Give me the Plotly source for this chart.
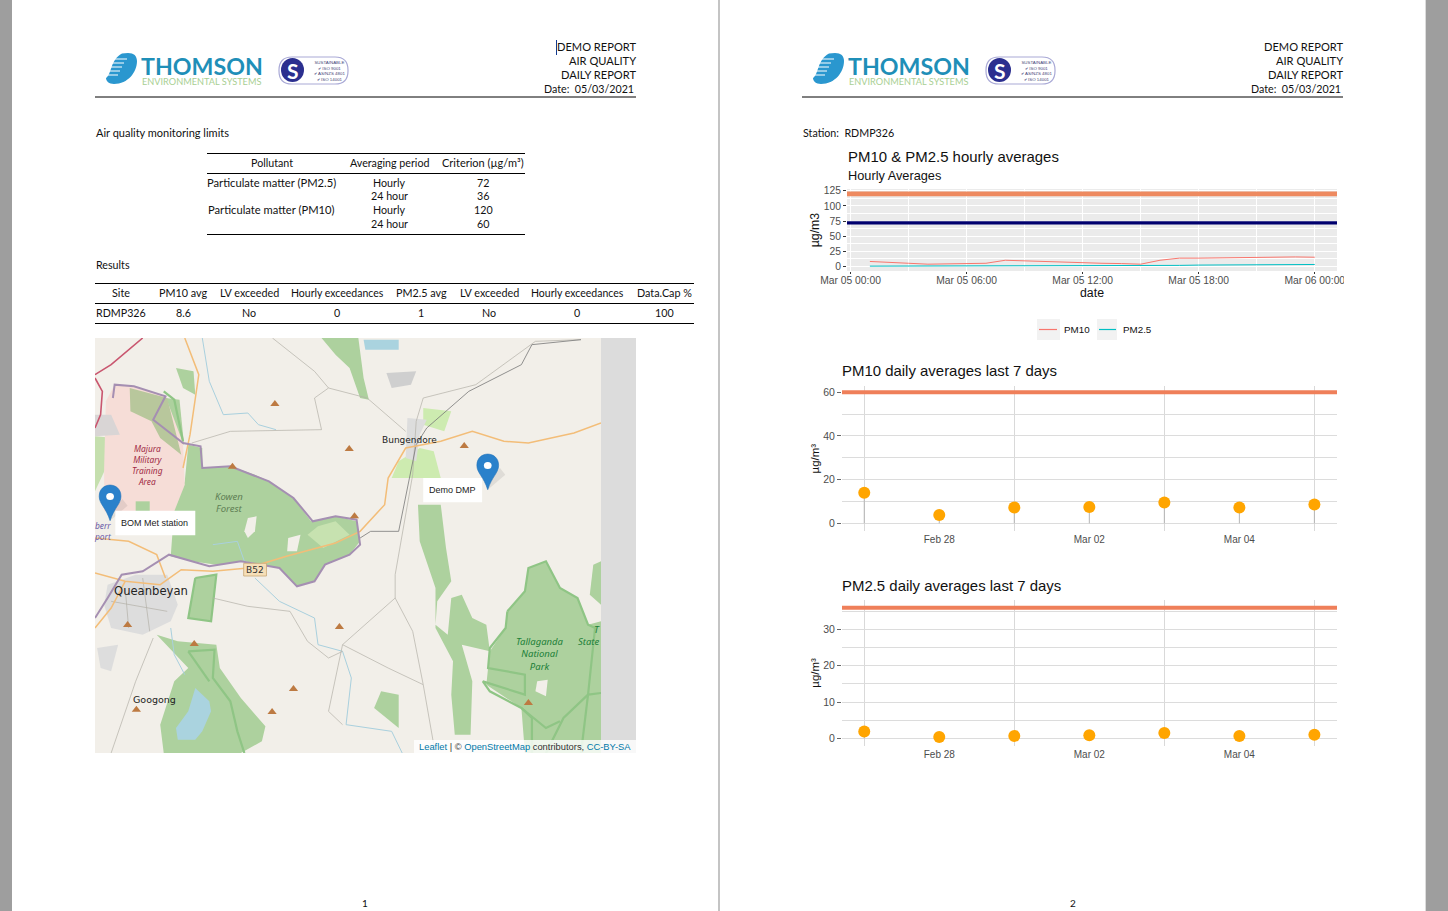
import plotly.graph_objects as go

W, H = 1448, 911
SERIF = "Lato"
SANS = "Liberation Sans"

# ---------- data ----------
hours = ["2021-03-05 %02d:00" % h for h in range(1, 24)] + ["2021-03-06 00:00"]
pm10_hourly = [8, 7, 5, 3.5, 4, 5, 5, 10, 9, 8, 6.5, 5, 5, 4.5, 3.5, 10, 13.5, 13.5, 14, 14, 14, 15, 15.5, 15]
pm25_hourly = [0.3] * 15 + [1, 1.5, 2, 2.2, 2.5, 3, 3, 3, 3]
limit_hourly_pm10 = 120
limit_hourly_pm25 = 72
days = ["2021-02-27", "2021-02-28", "2021-03-01", "2021-03-02", "2021-03-03", "2021-03-04", "2021-03-05"]
pm10_daily = [14, 3.8, 7.2, 7.5, 9.5, 7.3, 8.6]
pm25_daily = [1.9, 0.4, 0.7, 0.9, 1.5, 0.7, 1.0]
limit_daily_pm10 = 60
limit_daily_pm25 = 36
day_ticks = ["2021-02-28", "2021-03-02", "2021-03-04"]
day_labels = ["Feb 28", "Mar 02", "Mar 04"]
day_grid = ["2021-02-27", "2021-03-01", "2021-03-03", "2021-03-05"]

limits_head = ["Pollutant", "Averaging period", "Criterion (µg/m³)"]
limits_rows = [("Particulate matter (PM2.5)", "Hourly", "72"), ("", "24 hour", "36"),
               ("Particulate matter (PM10)", "Hourly", "120"), ("", "24 hour", "60")]
results_head = ["Site", "PM10 avg", "LV exceeded", "Hourly exceedances", "PM2.5 avg", "LV exceeded", "Hourly exceedances", "Data.Cap %"]
results_row = ["RDMP326", "8.6", "No", "0", "1", "No", "0", "100"]

# map features, in map-image units
LAND = "#f2efe9"
land = [("#add19e", [(280,330),(320,340),(320,400),(400,395),(470,420),(510,440),(580,490),(630,560),(700,545),(760,560),(770,620),(740,660),(670,690),(640,740),(590,755),(540,700),(440,680),(360,690),(290,680),(230,665),(240,520),(270,440)]),
        ("#add19e", [(215,190),(255,195),(268,330),(225,300),(180,255)]),
        ("#c5dfae", [(14,305),(70,310),(45,400),(14,470)]),
        (LAND, [(450,550),(475,545),(470,590),(450,610),(440,590)]),
        (LAND, [(565,610),(600,600),(590,650),(562,650)]),
        ("#c7e2b0", [(620,600),(650,575),(700,560),(740,600),(665,640)]),
        ("#add19e", [(660,10),(765,10),(780,130),(795,195),(770,190),(740,100),(700,60)]),
        ("#add19e", [(245,100),(295,110),(300,180),(265,160)]),
        ("#add19e", [(935,510),(1000,510),(1015,640),(1030,740),(990,800),(985,870),(1020,900),(1030,790),(1060,780),(1090,850),(1130,870),(1140,950),(1060,930),(1090,1040),(1085,1200),(1040,1200),(1030,1080),(1035,980),(985,880),(985,760),(940,620)]),
        ("#add19e", [(1190,830),(1240,770),(1250,700),(1300,680),(1340,760),(1390,790),(1420,870),(1457,860),(1457,1255),(1240,1255),(1230,1120),(1130,1050),(1140,950),(1185,880)]),
        (LAND, [(1275,1040),(1305,1035),(1300,1085),(1270,1070)]),
        ("#add19e", [(1435,690),(1457,680),(1457,810),(1425,780)]),
        ("#add19e", [(300,730),(360,720),(345,860),(280,850)]),
        ("#add19e", [(190,900),(250,920),(360,930),(370,1000),(430,1090),(500,1175),(490,1220),(430,1255),(210,1255),(200,1170),(240,1040),(280,1000)]),
        ("#add19e", [(830,1070),(880,1080),(880,1180),(810,1120)]),
        ("#cdebb0", [(950,220),(1030,230),(1010,290),(950,270)]),
        ("#cdebb0", [(940,340),(980,350),(1000,430),(860,430),(880,380)]),
        ("#f6ddd7", [(70,150),(125,155),(215,185),(265,325),(270,450),(240,530),(40,530),(40,400),(45,200)]),
        ("#b8c79c", [(113,160),(220,190),(260,360),(200,310),(175,260),(115,230)]),
        ("#add19e", [(130,500),(170,500),(170,530),(130,530)]),
        ("#d9d5d5", [(14,240),(60,240),(85,300),(14,305)]),
        ("#dddddd", [(50,750),(130,720),(220,720),(250,810),(230,860),(150,900),(60,880),(40,810)]),
        ("#dddddd", [(905,250),(960,255),(940,300),(930,380),(900,370)]),
        ("#dddddd", [(20,940),(80,930),(60,1010),(30,1000)]),
        ("#cfcfcf", [(845,115),(930,110),(915,150),(860,160)]),
        ("#aad3df", [(300,1060),(340,1100),(345,1130),(320,1190),(300,1215),(250,1215),(245,1180),(280,1130)]),
        ("#aad3df", [(780,15),(880,15),(880,45),(785,45)])]
park_edges = [[(1190,830),(1240,770),(1250,700),(1300,680),(1340,760),(1390,790),(1420,870),(1440,880),(1420,1080),(1457,1075)],
              [(1190,830),(1185,880),(1140,940),(1135,1000),(1240,1020),(1240,1080),(1120,1040),(1140,1070),(1230,1120),(1260,1150),(1260,1255)],
              [(1300,1255),(1350,1150),(1420,1080)],
              [(1230,1120),(1300,1180),(1340,1160)],
              [(1420,1080),(1400,1255)],
              [(300,730),(360,720),(345,860),(280,850),(300,730)],
              [(280,950),(355,945),(350,1030),(400,1100),(420,1190),(440,1255)],
              [(280,950),(340,1040)],
              [(210,170),(240,195),(265,320)]]
state_border = [(65,190),(70,150),(125,155),(215,185),(180,255),(265,325),(315,335),(320,400),(400,395),(470,425),(510,440),(580,490),(635,560),(700,545),(760,555),(770,630),(740,660),(670,690),(640,740),(590,755),(540,700),(430,680),(340,695),(290,680),(225,660),(150,710),(90,720),(50,790),(14,850)]
major_roads = [[(1457,265),(1380,295),(1250,325),(1180,320),(1090,290),(1000,320),(900,340),(850,430),(840,510),(770,590),(700,625),(560,665),(450,700),(350,710),(260,705),(200,750),(100,740),(14,715)],
               [(270,10),(310,120),(285,300),(265,400)],
               [(14,880),(60,820),(100,740)],
               [(14,610),(110,620),(190,660),(215,730)]]
red_roads = [[(150,10),(60,90),(14,120)], [(14,130),(35,170),(30,240),(14,280)]]
minor_roads = [[(1400,15),(1270,20),(1100,150),(950,190),(930,260),(920,420),(870,720),(870,790),(720,930),(680,1130),(720,1170)],
               [(870,790),(920,890),(950,1050),(980,1230)],
               [(720,930),(850,1000),(950,1050)],
               [(520,10),(640,110),(680,160),(790,190),(900,290)],
               [(680,160),(640,190),(660,285),(400,290),(290,325)],
               [(350,790),(450,815),(570,830),(620,920),(680,970),(720,950)],
               [(180,910),(130,1040),(60,1255)],
               [(100,760),(110,880)], [(60,800),(220,830)], [(150,730),(170,890)]]
dark_roads = [[(1400,15),(1260,30),(1230,90),(1080,170),(960,280),(930,330),(880,590),(800,590),(770,610)]]
rivers = [[(320,10),(340,140),(380,240),(450,235),(480,270),(530,285)],
          [(470,730),(540,800),(640,850),(650,930),(720,950),(745,1030),(730,1170),(860,1190),(890,1255)],
          [(230,880),(240,960),(270,1020)],
          [(350,630),(420,620),(440,680)]]
peaks_x = [527, 739, 1067, 406, 754, 107, 297, 711, 580, 519, 132, 1250]
peaks_y = [208, 343, 334, 396, 545, 871, 928, 877, 1063, 1132, 1125, 1105]
pins = [(57, 558), (1134, 465)]
popups = [(72, 528, 300, 602, 185, "BOM Met station"), (950, 430, 1118, 503, 1034, "Demo DMP")]
place_labels = [(163,390,"Majura<br>Military<br>Training<br>Area","#a02b45",8.4,True),
                (395,502,"Kowen<br>Forest","#5f7f55",9.6,True),
                (175,768,"Queanbeyan","#222222",11.6,False),(910,316,"Bungendore","#222222",9,False),(184,1094,"Googong","#222222",9.5,False),
                (1283,958,"Tallaganda<br>National<br>Park","#1c8038",9.5,True),
                (1422,921,"State","#1c8038",9.5,True),(1447,884,"T","#1c8038",9.5,True),(38,590,"berr<br>port","#6a5aa8",8.4,True)]

# ---------- helpers ----------
def px(x): return x / W
def py(y): return 1 - y / H

shapes, annos = [], []

def rect(x0, y0, x1, y1, fill, layer="below", line=None):
    shapes.append(dict(type="rect", xref="paper", yref="paper", x0=px(x0), x1=px(x1), y0=py(y1), y1=py(y0),
                       fillcolor=fill, line=dict(width=0) if line is None else line, layer=layer))

def hline(x0, x1, y, color="#000000", width=1):
    shapes.append(dict(type="line", xref="paper", yref="paper", x0=px(x0), x1=px(x1), y0=py(y), y1=py(y),
                       line=dict(color=color, width=width), layer="below"))

def text(x, y, s, size=10.7, color="#111111", font=SERIF, anchor="center", **kw):
    dx = {"left": -2, "right": 2}.get(anchor, 0)
    annos.append(dict(xref="paper", yref="paper", x=px(x + dx), y=py(y), text=s, showarrow=False, xanchor=anchor,
                      yanchor="middle", font=dict(family=font, size=size, color=color), **kw))

fig = go.Figure()

# ---------- pages ----------
rect(12, 0, 718, H, "#ffffff")
rect(720, 0, 1425, H, "#ffffff")
rect(718, 0, 720, H, "#c4c4c4")
rect(1425, 0, 1426, H, "#dcdcdc")

def pp(x, y):
    return "%.6f %.6f" % (px(x), py(y))

def header(dx):
    # logo swoosh
    d = "M %s L %s C %s %s %s C %s %s %s C %s %s %s C %s %s %s Z" % (
        pp(122 + dx, 53.5), pp(128 + dx, 53), pp(134 + dx, 53), pp(137 + dx, 56), pp(137 + dx, 61),
        pp(137 + dx, 72), pp(128 + dx, 84), pp(114 + dx, 84), pp(109 + dx, 84), pp(106 + dx, 81), pp(106 + dx, 78),
        pp(112 + dx, 74), pp(110 + dx, 60), pp(122 + dx, 53.5))
    shapes.append(dict(type="path", xref="paper", yref="paper", path=d, fillcolor="#2a97cf", line=dict(width=0), layer="below"))
    for y, x1 in ((59, 127), (63, 124), (67, 122), (71, 120), (75, 118)):
        hline(104 + dx, x1 + dx, y, "#ffffff", 1)
    text(201.5 + dx, 66, "<b>THOMSON</b>", size=23.2, color="#1f8fb8", font="Lato")
    text(201.5 + dx, 81.5, "ENVIRONMENTAL SYSTEMS", size=9.2, color="#a9cf93", font="Lato")
    # badge, a pill
    x0, x1, y0, y1 = 279 + dx, 348 + dx, 57, 84
    b = "M %s L %s C %s %s %s L %s C %s %s %s L %s C %s %s %s L %s C %s %s %s Z" % (
        pp(x0 + 13, y0), pp(x1 - 13, y0), pp(x1 - 4, y0), pp(x1, y0 + 5), pp(x1, y0 + 13),
        pp(x1, y1 - 13), pp(x1, y1 - 5), pp(x1 - 4, y1), pp(x1 - 13, y1),
        pp(x0 + 13, y1), pp(x0 + 4, y1), pp(x0, y1 - 5), pp(x0, y1 - 13),
        pp(x0, y0 + 13), pp(x0, y0 + 5), pp(x0 + 4, y0), pp(x0 + 13, y0))
    shapes.append(dict(type="path", xref="paper", yref="paper", path=b, fillcolor="#ffffff", line=dict(color="#a9a9d6", width=1.2), layer="below"))
    shapes.append(dict(type="circle", xref="paper", yref="paper", x0=px(281 + dx), x1=px(304 + dx), y0=py(82), y1=py(58),
                       fillcolor="#2b2f8f", line=dict(width=0), layer="below"))
    text(292.5 + dx, 70, "<b>S</b>", size=21, color="#ffffff", font="Lato")
    text(329 + dx, 70.5, "SUSTAINABLE<br>✔ ISO 9001<br>✔ AS/NZS 4801<br>✔ ISO 14001", size=4.4, color="#444477", font=SANS)
    hline(95 + dx, 636 + dx, 97, width=1)
    text(636 + dx, 46.5, "DEMO REPORT", size=11.1, anchor="right")
    text(636 + dx, 60.5, "AIR QUALITY", size=11.1, anchor="right")
    text(636 + dx, 75, "DAILY REPORT", size=11.1, anchor="right")
    text(634 + dx, 89, "Date:  05/03/2021", anchor="right")

header(0)
header(707)
shapes.append(dict(type="line", xref="paper", yref="paper", x0=px(556.5), x1=px(556.5), y0=py(40), y1=py(55), line=dict(color="#123a8f", width=1)))
text(365.5, 902.5, "1", size=10)
text(1073, 902.5, "2", size=10)
text(96, 132.5, "Air quality monitoring limits", size=11, anchor="left")
text(96, 264.5, "Results", anchor="left")
text(803, 132.5, "Station:  RDMP326", anchor="left")

# tables
for y in (153.5, 173.5, 234.5):
    hline(207, 525, y)
for cx, s in zip((272, 389, 483), limits_head):
    text(cx, 163, s, size=11 if "Crit" in s else 10.7)
for ry, row in zip((183, 196, 209.5, 223.5), limits_rows):
    for cx, s in zip((271.5, 389, 483), row):
        if s:
            text(cx, ry, s, size=11.2 if "Part" in s else 10.7)
for y in (283.5, 303.5, 323.5):
    hline(95, 694, y)
res_x = (121, 183, 249, 337, 421, 489, 577, 664.5)
for cx, s, r in zip(res_x, results_head, results_row):
    text(cx, 293, s, size=10.5 if "Hourly" in s else 10.8)
    text(cx, 312.5, r)

# ---------- map ----------
rect(95, 338, 601, 753, LAND)
rect(601, 338, 636, 753, "#dcdcdc")

def mline(pts, color, width, fill=None):
    fig.add_trace(go.Scatter(x=[p[0] for p in pts], y=[p[1] for p in pts], xaxis="x4", yaxis="y4", mode="lines",
                             line=dict(color=color, width=width), fill="toself" if fill else None, fillcolor=fill,
                             hoverinfo="skip", showlegend=False))

for col, poly in land:
    mline(poly, "rgba(0,0,0,0)", 0, col)
for r in rivers:
    mline(r, "#a9d0de", 1)
for e in park_edges:
    mline(e, "#8fc585", 2.2)
for r in minor_roads:
    mline(r, "#b3b0a8", 0.7)
for r in dark_roads:
    mline(r, "#777777", 0.8)
for r in major_roads:
    mline(r, "#f3bd78", 1.5)
for r in red_roads:
    mline(r, "#c9566f", 1.6)
mline(state_border, "#a58fb2", 2)
fig.add_trace(go.Scatter(x=peaks_x, y=peaks_y, xaxis="x4", yaxis="y4", mode="markers",
                         marker=dict(symbol="triangle-up", size=8, color="#bd7a42"), hoverinfo="skip", showlegend=False))
for (x, y, s, c, sz, it) in place_labels:
    annos.append(dict(xref="x4", yref="y4", x=x, y=y, text="<i>%s</i>" % s if it else s, showarrow=False,
                      font=dict(family="DejaVu Sans" if not it else "Noto Sans", size=sz, color=c)))
# road shield
shapes.append(dict(type="rect", xref="x4", yref="y4", x0=438, x1=503, y0=686, y1=724, fillcolor="#f6dfb8", line=dict(color="#c9a877", width=0.8)))
annos.append(dict(xref="x4", yref="y4", x=470, y=705, text="B52", showarrow=False, font=dict(family="DejaVu Sans", size=9, color="#333333")))
# pins, popups
for (x, y) in pins:
    shapes.append(dict(type="path", xref="x4", yref="y4", path="M %g %g L %g %g L %g %g L %g %g Z" % (x, y, x + 50, y - 45, x + 35, y - 65, x + 8, y - 30),
                       fillcolor="rgba(60,60,60,0.10)", line=dict(width=0), layer="above"))
    path = "M %g %g C %g %g %g %g %g %g C %g %g %g %g %g %g C %g %g %g %g %g %g Z" % (
        x, y, x - 12, y - 40, x - 31, y - 50, x - 31, y - 73,
        x - 31, y - 118, x + 31, y - 118, x + 31, y - 73,
        x + 31, y - 50, x + 12, y - 40, x, y)
    shapes.append(dict(type="path", xref="x4", yref="y4", path=path, fillcolor="#2a81cb", line=dict(color="#2172b8", width=0.6), layer="above"))
    shapes.append(dict(type="circle", xref="x4", yref="y4", x0=x - 11, x1=x + 11, y0=y - 83, y1=y - 62, fillcolor="#ffffff", line=dict(width=0), layer="above"))
for (x0, y0, x1, y1, cx, s) in popups:
    shapes.append(dict(type="rect", xref="x4", yref="y4", x0=x0, x1=x1, y0=y0, y1=y1, fillcolor="#ffffff", line=dict(width=0), layer="above"))
    annos.append(dict(xref="x4", yref="y4", x=cx, y=(y0 + y1) / 2, text=s, showarrow=False, font=dict(family=SANS, size=9, color="#222222")))
# attribution
rect(414, 740, 636, 753, "rgba(255,255,255,0.8)", layer="above")
text(419, 746.5, '<span style="color:#0078A8">Leaflet</span> | © <span style="color:#0078A8">OpenStreetMap</span> contributors, <span style="color:#0078A8">CC-BY-SA</span>',
     size=9.35, color="#333333", font=SANS, anchor="left")

# ---------- hourly chart ----------
rect(847, 189, 1337, 271, "#ebebeb")
x_range1 = ["2021-03-04 23:49", "2021-03-06 01:09"]
for name, vals, col in (("PM10", pm10_hourly, "#F8766D"), ("PM2.5", pm25_hourly, "#00BFC4")):
    fig.add_trace(go.Scatter(x=hours, y=vals, name=name, mode="lines", line=dict(color=col, width=1), xaxis="x", yaxis="y", showlegend=False))
fig.add_trace(go.Scatter(x=x_range1, y=[limit_hourly_pm10] * 2, mode="lines", line=dict(color="#EE8A60", width=4.6), xaxis="x", yaxis="y", showlegend=False, name="PM10 limit"))
fig.add_trace(go.Scatter(x=x_range1, y=[limit_hourly_pm25] * 2, mode="lines", line=dict(color="#00006E", width=3.2), xaxis="x", yaxis="y", showlegend=False, name="PM2.5 limit"))
text(848, 156.3, "PM10 &amp; PM2.5 hourly averages", size=14.95, color="#111111", font=SANS, anchor="left")
text(848, 175.5, "Hourly Averages", size=12.75, color="#111111", font=SANS, anchor="left")

# legend keys
rect(1037, 319, 1060, 340, "#f2f2f2")
rect(1097, 319, 1117, 340, "#f2f2f2")
hline(1039, 1057, 329.5, "#F8766D", 1.2)
hline(1099, 1116, 329.5, "#00BFC4", 1.2)
text(1064, 329.5, "PM10", size=9.8, font=SANS, anchor="left")
text(1123, 329.5, "PM2.5", size=9.8, font=SANS, anchor="left")
# the report's figure is cut at the page text width
rect(1344, 270, 1380, 290, "#ffffff", layer="above")

# ---------- daily charts ----------
x_range_daily = ["2021-02-26 16:53", "2021-03-05 07:14"]
def daily(vals, limit, xa, ya, name):
    fig.add_trace(go.Scatter(x=x_range_daily, y=[limit, limit], mode="lines", showlegend=False, name=name + " limit",
                             line=dict(color="#EF7F5A", width=4), xaxis=xa, yaxis=ya))
    fig.add_trace(go.Scatter(x=days, y=vals, mode="markers", showlegend=False, name=name, xaxis=xa, yaxis=ya,
                             marker=dict(size=12, color="#FFA500"),
                             error_y=dict(type="data", symmetric=False, array=[0] * len(vals), arrayminus=vals, color="#b5b5b5", thickness=1, width=0)))

daily(pm10_daily, limit_daily_pm10, "x2", "y2", "PM10")
daily(pm25_daily, limit_daily_pm25, "x3", "y3", "PM2.5")
text(842, 370.3, "PM10 daily averages last 7 days", size=14.95, font=SANS, anchor="left")
text(842, 585.3, "PM2.5 daily averages last 7 days", size=14.95, font=SANS, anchor="left")

axfont = dict(family=SANS, size=10, color="#4d4d4d")
xdaily = dict(type="date", automargin=False, range=x_range_daily, tickmode="array", tickvals=day_ticks, ticktext=day_labels,
              showgrid=False, zeroline=False, showline=False, ticks="", ticklabelstandoff=1, tickfont=axfont,
              minor=dict(tickmode="array", tickvals=day_grid, showgrid=True, gridcolor="#d9d9d9", gridwidth=1, ticks=""))
ydaily = dict(automargin=False, showgrid=True, gridcolor="#dcdcdc", gridwidth=1, zeroline=False, ticks="outside", ticklen=4, tickcolor="#666666", tickwidth=1,
              tickfont=dict(family=SANS, size=10.5, color="#4d4d4d"))

dom_x = lambda a, b: [px(a), px(b)]
dom_y = lambda top, bot: [py(bot), py(top)]

ytitle = dict(family=SANS, size=11.5, color="#111111")
fig.update_layout(
    width=W, height=H, margin=dict(l=0, r=0, t=0, b=0), autosize=False,
    paper_bgcolor="#9e9e9e", plot_bgcolor="rgba(0,0,0,0)", showlegend=False,
    shapes=shapes, annotations=annos,
    xaxis=dict(domain=dom_x(847, 1337), automargin=False, type="date", range=x_range1, anchor="y", tick0="2021-03-05 00:00", dtick=6 * 3600000,
               tickformat="%b %d %H:%M", hoverformat="%b %d %H:%M", showgrid=True, gridcolor="#ffffff", gridwidth=1.3, zeroline=False,
               ticks="outside", ticklen=2, tickcolor="#333333", tickwidth=1, ticklabelstandoff=-2, tickfont=dict(family=SANS, size=10.3, color="#4d4d4d"),
               minor=dict(dtick=3 * 3600000, tick0="2021-03-05 00:00", showgrid=True, gridcolor="#ffffff", gridwidth=0.7, ticks=""),
               title=dict(text="date", font=dict(family=SANS, size=12.3, color="#111111"), standoff=1)),
    yaxis=dict(domain=dom_y(189, 271), automargin=False, range=[-7.8, 128], anchor="x", tickmode="array", tickvals=[0, 25, 50, 75, 100, 125],
               showgrid=True, gridcolor="#ffffff", gridwidth=1.3, zeroline=False, ticks="outside", ticklen=3, tickcolor="#333333", tickwidth=1,
               tickfont=dict(family=SANS, size=10.3, color="#4d4d4d"),
               minor=dict(tickmode="array", tickvals=[12.5, 37.5, 62.5, 87.5, 112.5], showgrid=True, gridcolor="#ffffff", gridwidth=0.7, ticks=""),
               title=dict(text="µg/m3", font=dict(family=SANS, size=12.3, color="#111111"), standoff=1)),
    xaxis2=dict(domain=dom_x(842, 1337), anchor="y2", **xdaily),
    yaxis2=dict(domain=dom_y(386.3, 531), range=[-3.5, 62.7], anchor="x2", dtick=20, tick0=0,
                minor=dict(dtick=10, tick0=0, showgrid=True, gridcolor="#dcdcdc", gridwidth=1, ticks=""),
                title=dict(text="µg/m³", font=ytitle, standoff=1), **ydaily),
    xaxis3=dict(domain=dom_x(842, 1337), anchor="y3", **xdaily),
    yaxis3=dict(domain=dom_y(600, 745.7), range=[-2, 38.1], anchor="x3", dtick=10, tick0=0,
                minor=dict(dtick=5, tick0=0, showgrid=True, gridcolor="#dcdcdc", gridwidth=1, ticks=""),
                title=dict(text="µg/m³", font=ytitle, standoff=1), **ydaily),
    xaxis4=dict(domain=dom_x(95, 601), automargin=False, range=[14, 1457], anchor="y4", visible=False, fixedrange=True),
    yaxis4=dict(domain=dom_y(338, 753), automargin=False, range=[1255, 10], anchor="x4", visible=False, fixedrange=True),
)
fig.write_html("out.html", config={"displayModeBar": False},
               post_script="document.body.style.margin='0';document.body.style.overflow='hidden';")
